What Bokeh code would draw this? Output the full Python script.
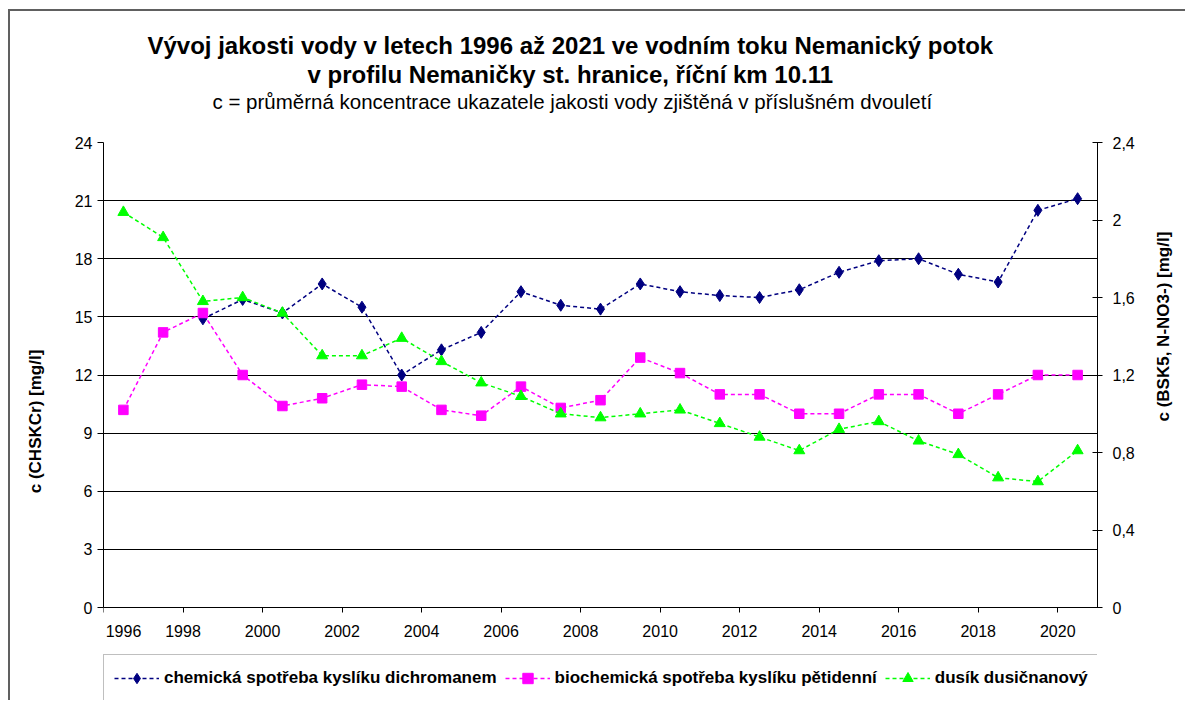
import math
from bokeh.plotting import figure
from bokeh.models import Range1d, LinearAxis, FixedTicker, Legend, LegendItem, Title
from bokeh.embed import file_html
from bokeh.resources import INLINE

nan = float("nan")

# ---------------- data ----------------
years = list(range(1996, 2021))          # start year of each period (plotted mid-year)
chsk = [nan, nan, 14.9, 15.9, 15.2, 16.7, 15.5, 12.0, 13.3, 14.2, 16.3, 15.6, 15.4,
        16.7, 16.3, 16.1, 16.0, 16.4, 17.3, 17.9, 18.0, 17.2, 16.8, 20.5, 21.1]
bsk5 = [1.02, 1.42, 1.52, 1.20, 1.04, 1.08, 1.15, 1.14, 1.02, 0.99, 1.14, 1.03, 1.07,
        1.29, 1.21, 1.10, 1.10, 1.00, 1.00, 1.10, 1.10, 1.00, 1.10, 1.20, 1.20]
nno3 = [2.04, 1.91, 1.58, 1.60, 1.52, 1.30, 1.30, 1.39, 1.27, 1.16, 1.09, 1.00, 0.98,
        1.00, 1.02, 0.95, 0.88, 0.81, 0.92, 0.96, 0.86, 0.79, 0.67, 0.65, 0.81]

x_ticks = list(range(1996, 2021, 2))
left_ticks = [0, 3, 6, 9, 12, 15, 18, 21, 24]
right_ticks = [0, 0.4, 0.8, 1.2, 1.6, 2, 2.4]
right_labels = ["0", "0,4", "0,8", "1,2", "1,6", "2", "2,4"]

names = ["chemická spotřeba kyslíku dichromanem",
         "biochemická spotřeba kyslíku pětidenní",
         "dusík dusičnanový"]
title1 = "Vývoj jakosti vody v letech 1996 až 2021 ve vodním toku Nemanický potok"
title2 = "v profilu Nemaničky st. hranice, říční km 10.11"
subtitle = "c = průměrná koncentrace ukazatele jakosti vody zjištěná v příslušném dvouletí"
ylabel_left = "c (CHSKCr) [mg/l]"
ylabel_right = "c (BSK5, N-NO3-) [mg/l]"

xmid = [y + 0.5 for y in years]

FONT = "Liberation Sans"

# geometry: data area is 994 x 465 px; the frame extends further down so that
# the legend (below the x axis) can live inside it
DATA_H = 465
FRAME_H = 558
LEFT_MAX, RIGHT_MAX = 24, 2.4
y_start = -(FRAME_H - DATA_H) * LEFT_MAX / DATA_H
r_start = -(FRAME_H - DATA_H) * RIGHT_MAX / DATA_H

p = figure(frame_width=994, frame_height=FRAME_H, output_backend="svg",
           toolbar_location=None,
           x_range=Range1d(1996, 2021), y_range=Range1d(y_start, LEFT_MAX),
           min_border_left=103, min_border_right=87, min_border_top=142,
           min_border_bottom=0)
p.extra_y_ranges = {"r": Range1d(r_start, RIGHT_MAX)}
p.background_fill_color = "white"
p.border_fill_color = None
p.outline_line_color = None
# outer chart frame (left and top edge), drawn as an inset shadow of the plot element
p.styles = {"box-shadow": "inset 8px 9px 0 0 white, inset 10px 11px 0 0 #606060",
            "background-color": "white"}

# ---------------- axes ----------------
p.xaxis.ticker = FixedTicker(ticks=x_ticks)
p.xaxis.fixed_location = 0
# the first year label sits on the frame edge: pad it so it stays fully visible
p.xaxis.major_label_overrides = {x_ticks[0]: "\u00a0" * 9 + str(x_ticks[0])}
p.yaxis.ticker = FixedTicker(ticks=left_ticks)
p.yaxis.bounds = (0, LEFT_MAX)
for ax in (p.xaxis[0], p.yaxis[0]):
    ax.axis_line_color = "black"
    ax.major_tick_line_color = "black"
    ax.major_tick_in = 0
    ax.minor_tick_line_color = None
    ax.major_label_text_font = FONT
    ax.major_label_text_font_size = "16px"
    ax.major_label_text_color = "black"
p.xaxis.major_tick_out = 5
p.xaxis.major_label_standoff = 10
p.yaxis.major_tick_out = 6
p.yaxis.major_label_standoff = 5
p.yaxis.axis_label = ylabel_left
p.yaxis.axis_label_standoff = 27
p.yaxis.axis_label_text_font = FONT
p.yaxis.axis_label_text_font_size = "17px"
p.yaxis.axis_label_text_font_style = "bold"
p.yaxis.axis_label_text_color = "black"

rax = LinearAxis(y_range_name="r", ticker=FixedTicker(ticks=right_ticks),
                 bounds=(0, RIGHT_MAX),
                 major_label_overrides=dict(zip(right_ticks, right_labels)))
rax.axis_line_color = "black"
rax.major_tick_line_color = "black"
rax.major_tick_in = 5
rax.major_tick_out = 5
rax.minor_tick_line_color = None
rax.major_label_standoff = 10
rax.major_label_text_font = FONT
rax.major_label_text_font_size = "16px"
rax.major_label_text_color = "black"
rax.axis_label = ylabel_right
rax.axis_label_standoff = 26
rax.axis_label_text_font = FONT
rax.axis_label_text_font_size = "17px"
rax.axis_label_text_font_style = "bold"
rax.axis_label_text_color = "black"
try:
    rax.axis_label_orientation = math.pi / 2   # read bottom-to-top like the left one
except Exception:
    pass
p.add_layout(rax, "right")

p.xgrid.grid_line_color = None
p.ygrid.ticker = FixedTicker(ticks=left_ticks)
p.ygrid.grid_line_color = "black"

# ---------------- series ----------------
DASH = "4 3"
l1 = p.line(xmid, chsk, line_color="#000080", line_width=1.5, line_dash=DASH)
s1 = p.scatter(xmid, chsk, marker="diamond", size=12,
               fill_color="#000080", line_color="#000080")
l2 = p.line(xmid, bsk5, line_color="#FF00FF", line_width=1.5, line_dash=DASH,
            y_range_name="r")
s2 = p.scatter(xmid, bsk5, marker="square", size=9.5, fill_color="#FF00FF",
               line_color="#FF00FF", y_range_name="r")
l3 = p.line(xmid, nno3, line_color="#00FF00", line_width=1.5, line_dash=DASH,
            y_range_name="r")
s3 = p.scatter(xmid, nno3, marker="triangle", size=11, fill_color="#00FF00",
               line_color="#00FF00", y_range_name="r")

legend = Legend(items=[LegendItem(label=names[0], renderers=[l1, s1]),
                       LegendItem(label=names[1], renderers=[l2, s2]),
                       LegendItem(label=names[2], renderers=[l3, s3])],
                orientation="horizontal", location=(0, -2),
                glyph_width=45, glyph_height=26, label_height=26,
                label_standoff=5, spacing=8, padding=10, margin=0,
                border_line_color="#808080", border_line_width=1.5,
                background_fill_color="white",
                label_text_font=FONT, label_text_font_style="bold",
                label_text_font_size="17px", label_text_color="black")
p.add_layout(legend, "center")

# ---------------- titles (stacked upward from the frame) ----------------
def title(text, size, bold, offset, standoff=0):
    return Title(text=text, text_font=FONT, text_font_size=size,
                 text_font_style="bold" if bold else "normal", text_color="black",
                 align="left", offset=offset, standoff=standoff,
                 vertical_align="middle")

p.add_layout(Title(text=" ", text_font_size="10px", standoff=16), "above")
p.add_layout(title(subtitle, "20.5px", False, 109), "above")
p.add_layout(title(title2, "24px", True, 204), "above")
p.add_layout(title(title1, "24px", True, 44), "above")

open("out.html", "w").write(file_html(p, INLINE))
